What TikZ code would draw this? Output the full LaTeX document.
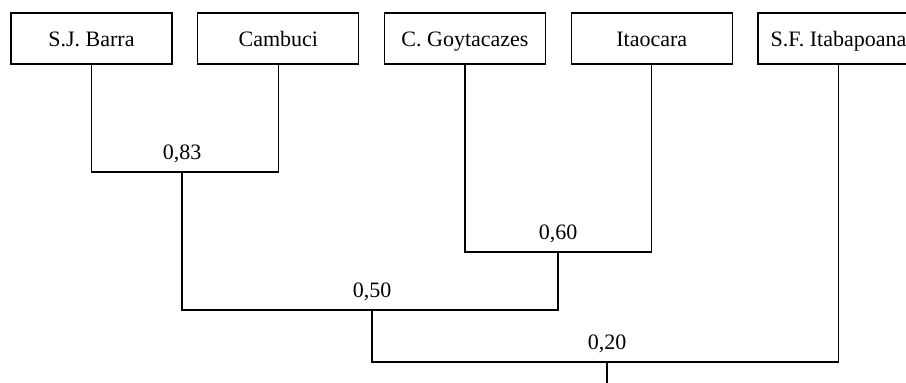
\documentclass[tikz,border=0pt]{standalone}
\usepackage{fontspec}
\setmainfont{Liberation Serif}
\usepackage{tikz}
\usetikzlibrary{positioning}

\begin{document}
\begin{tikzpicture}[x=1pt,y=-1pt,
							placebox/.style={rectangle, draw=black, line width=1.1pt, fill=white, minimum width=161pt, minimum height=51pt, inner sep=0pt, text height=15pt, text depth=0pt, font=\fontsize{22}{26}\selectfont},
							simlabel/.style={anchor=base, inner sep=0pt, font=\fontsize{22}{26}\selectfont},
							link/.style={draw=black, line width=1.1pt},
							]
							\useasboundingbox (0,0) rectangle (906,383);
							%Nodes
							\node[placebox]      (sjb) 	at 	(91.5,38.5)     {S.J. Barra};
							\node[placebox]      (cam) 	at 	(278.3,38.5)    {Cambuci};
							\node[placebox]      (goy) 	at 	(465,38.5)      {C. Goytacazes};
							\node[placebox]      (ita) 	at 	(651.8,38.5)    {Itaocara};
							\node[placebox]      (sfi) 	at 	(838.5,38.5)    {S.F. Itabapoana};
							%Junctions
							\coordinate          (j83) 	at 	(182,172);
							\coordinate          (j60) 	at 	(558,252);
							\coordinate          (j50) 	at 	(372,310);
							\coordinate          (j20) 	at 	(607,362);
							\coordinate          (root) 	at 	(607,383);
							%Labels
							\node[simlabel]      (l83) 	at 	(182,159)       {0,83};
							\node[simlabel]      (l60) 	at 	(558,239)       {0,60};
							\node[simlabel]      (l50) 	at 	(372,297)       {0,50};
							\node[simlabel]      (l20) 	at 	(607,349)       {0,20};

							\draw[link] (sjb.south) |- (j83) -| (cam.south);
							\draw[link] (goy.south) |- (j60) -| (ita.south);
							\draw[link] (j83) |- (j50) -| (j60);
							\draw[link] (j50) |- (j20) -| (sfi.south);
							\draw[link] (j20) -- (root);
						\end{tikzpicture}
\end{document}
